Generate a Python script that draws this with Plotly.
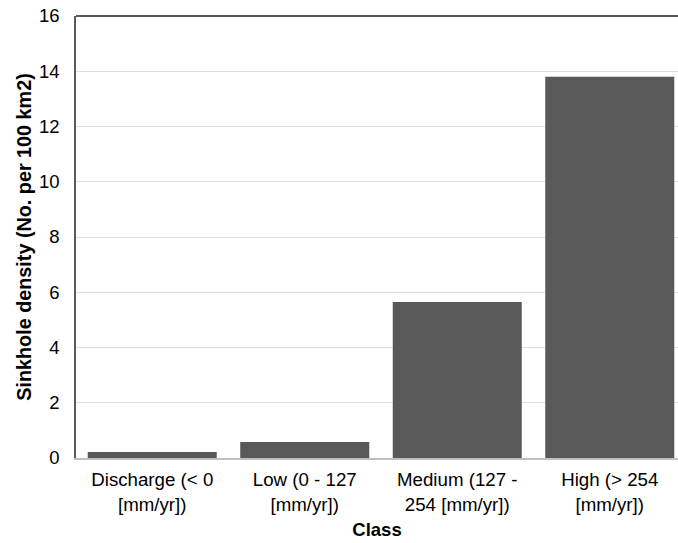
import plotly.graph_objects as go

categories = ["Discharge (< 0<br>[mm/yr])", "Low (0 - 127<br>[mm/yr])",
              "Medium (127 -<br>254 [mm/yr])", "High (> 254<br>[mm/yr])"]
density = [0.22, 0.58, 5.65, 13.8]
y_ticks = [0, 2, 4, 6, 8, 10, 12, 14, 16]

font_family = "Liberation Sans, Arial, sans-serif"

fig = go.Figure(go.Bar(x=list(range(len(categories))), y=density,
                       marker=dict(color="#595959", line=dict(width=0)),
                       width=0.846))

fig.update_layout(
    width=678, height=543,
    margin=dict(l=76, r=0, t=16, b=85),
    paper_bgcolor="white", plot_bgcolor="white",
    font=dict(family=font_family, size=18.5, color="#000000"),
    showlegend=False,
    xaxis=dict(
        tickmode="array", tickvals=list(range(len(categories))), ticktext=categories,
        range=[-0.5, 3.4475], automargin=False,
        showline=True, linecolor="#c0c0c0", linewidth=1.5,
        showgrid=False, ticks="", zeroline=False,
        tickfont=dict(size=18.7), ticklabelstandoff=4,
        title=dict(text="<b>Class</b>", font=dict(size=18.5), standoff=10),
    ),
    yaxis=dict(
        range=[0, 16], tickvals=y_ticks, automargin=False,
        showline=True, linecolor="#595959", linewidth=1.5,
        showgrid=True, gridcolor="#e0e0e0", gridwidth=1,
        zeroline=False, ticks="", ticklabelstandoff=11,
        ticklabeloverflow="allow",
        tickfont=dict(size=18.5),
        title=dict(text="<b>Sinkhole density (No. per 100 km2)</b>", font=dict(size=19.8), standoff=2),
    ),
    shapes=[dict(type="line", xref="paper", yref="paper", x0=0, x1=1, y0=1, y1=1,
                 line=dict(color="#595959", width=2))],
)

# remove the default 8px body margin so the figure fills the window exactly
fig.write_html("out.html", config={"displayModeBar": False},
               post_script="document.body.style.margin='0px';")
